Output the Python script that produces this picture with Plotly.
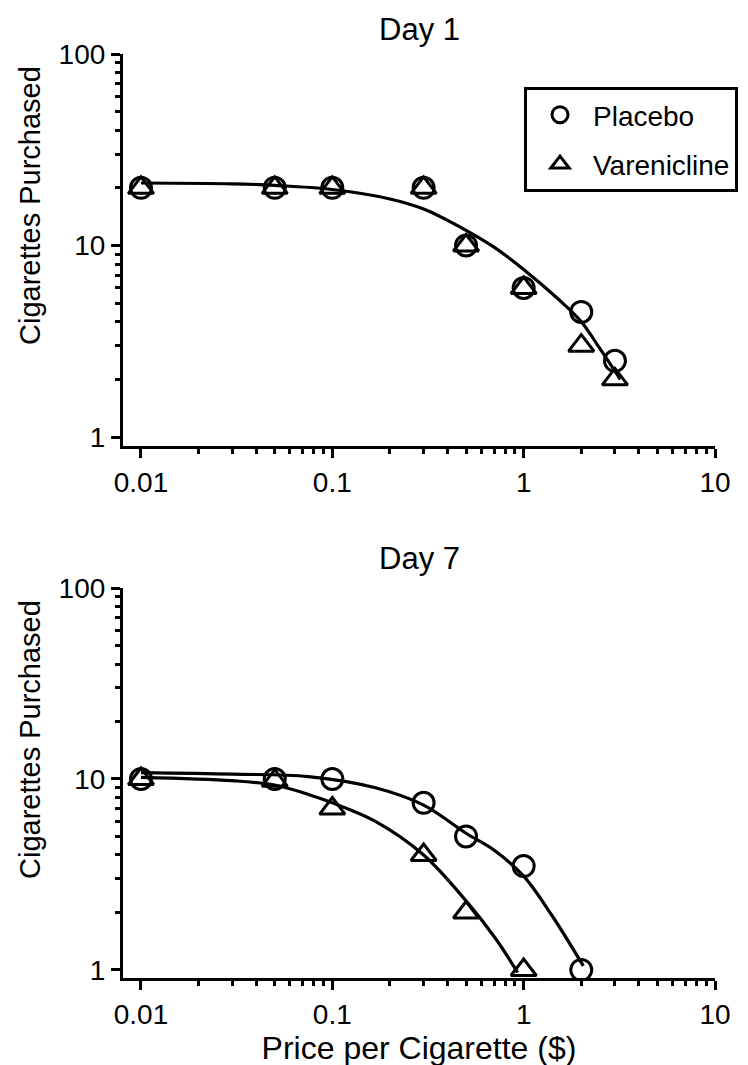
import plotly.graph_objects as go

# ---- data ----
price_day1 = [0.01, 0.05, 0.1, 0.3, 0.5, 1, 2, 3]
day1_placebo = [20, 20, 20, 20, 10, 6, 4.5, 2.5]
day1_varenicline = [20, 20, 20, 20, 10, 6, 3, 2]

price_day7_placebo = [0.01, 0.05, 0.1, 0.3, 0.5, 1, 2]
day7_placebo = [10, 10, 10, 7.5, 5, 3.5, 1]
price_day7_varenicline = [0.01, 0.05, 0.1, 0.3, 0.5, 1]
day7_varenicline = [10, 9.8, 7, 4, 2, 1]

# fitted demand curves
fit1_x = [0.01, 0.03, 0.05, 0.1, 0.2, 0.3, 0.5, 0.7, 1.0, 1.5, 2.0, 2.5, 3.2]
fit1_y = [21.2, 21.0, 20.6, 19.6, 17.5, 15.5, 12.0, 9.8, 7.5, 5.3, 4.0, 2.9, 2.0]

fit7p_x = [0.01, 0.03, 0.075, 0.168, 0.3, 0.5, 0.71, 1.0, 1.4, 2.05]
fit7p_y = [10.8, 10.6, 10.3, 9.0, 7.3, 5.2, 4.2, 3.1, 1.94, 1.05]

fit7v_x = [0.01, 0.03, 0.05, 0.075, 0.1, 0.168, 0.3, 0.5, 0.71, 0.93]
fit7v_y = [10.2, 9.8, 9.3, 8.3, 7.5, 6.0, 4.0, 2.3, 1.47, 0.97]

x_tickvals = [0.01, 0.1, 1, 10]
x_ticktext = ["0.01", "0.1", "1", "10"]
y_tickvals = [1, 10, 100]
y_ticktext = ["1", "10", "100"]
x_minor = [m * d for d in (0.01, 0.1, 1) for m in range(2, 10)]
y_minor = [m * d for d in (1, 10) for m in range(2, 10)]

FONT = "Liberation Sans, Arial, sans-serif"
W, H = 748, 1065
L, R, T, B = 115, 41, 46, 95
plot_h = H - T - B
plot_w = W - L - R

def py(pix):
    return (H - B - pix) / plot_h

def px(pix):
    return (pix - L) / plot_w

fig = go.Figure()

mk_circle = dict(symbol="circle-open", size=21, color="black", line=dict(width=3, color="black"))
mk_tri = dict(symbol="triangle-up-open", size=22, color="black", line=dict(width=3, color="black"))
line_style = dict(color="black", width=3.2, shape="spline")

# Day 1
fig.add_trace(go.Scatter(x=fit1_x, y=fit1_y, mode="lines", line=line_style,
                         showlegend=False, xaxis="x", yaxis="y"))
fig.add_trace(go.Scatter(x=price_day1, y=day1_placebo, mode="markers", marker=mk_circle,
                         name="Placebo", legendgroup="p", xaxis="x", yaxis="y"))
fig.add_trace(go.Scatter(x=price_day1, y=day1_varenicline, mode="markers", marker=mk_tri,
                         name="Varenicline", legendgroup="v", xaxis="x", yaxis="y"))

# Day 7
fig.add_trace(go.Scatter(x=fit7p_x, y=fit7p_y, mode="lines", line=line_style,
                         showlegend=False, xaxis="x2", yaxis="y2"))
fig.add_trace(go.Scatter(x=fit7v_x, y=fit7v_y, mode="lines", line=line_style,
                         showlegend=False, xaxis="x2", yaxis="y2"))
fig.add_trace(go.Scatter(x=price_day7_placebo, y=day7_placebo, mode="markers", marker=mk_circle,
                         name="Placebo", showlegend=False, xaxis="x2", yaxis="y2"))
fig.add_trace(go.Scatter(x=price_day7_varenicline, y=day7_varenicline, mode="markers", marker=mk_tri,
                         name="Varenicline", showlegend=False, xaxis="x2", yaxis="y2"))

def axis(tv, tt, minor, rng, **kw):
    d = dict(type="log", range=rng, showline=True, linecolor="black", linewidth=3.2,
             ticks="outside", ticklen=9, tickwidth=3, tickcolor="black",
             showgrid=False, zeroline=False, tickvals=tv, ticktext=tt,
             tickfont=dict(family=FONT, size=28, color="black"),
             minor=dict(ticks="outside", ticklen=5, tickwidth=3, tickcolor="black",
                        tickvals=minor, showgrid=False))
    d.update(kw)
    return d

xr = [-2.094, 1.0]
top_dom = [py(438), 1.0]
bot_dom = [0.0, py(580)]

fig.update_layout(
    width=W, height=H,
    margin=dict(l=L, r=R, t=T, b=B),
    paper_bgcolor="white", plot_bgcolor="white",
    font=dict(family=FONT, color="black"),
    xaxis=axis(x_tickvals, x_ticktext, x_minor, xr, domain=[0, 1], anchor="y"),
    yaxis=axis(y_tickvals, y_ticktext, y_minor, [-0.047, 2.0], domain=top_dom, anchor="x"),
    xaxis2=axis(x_tickvals, x_ticktext, x_minor, xr, domain=[0, 1], anchor="y2",
                title=dict(text="Price per Cigarette ($)", font=dict(family=FONT, size=32, color="black"),
                           standoff=8)),
    yaxis2=axis(y_tickvals, y_ticktext, y_minor, [-0.042, 2.0], domain=bot_dom, anchor="x2"),
    legend=dict(x=px(516), y=py(79), xanchor="left", yanchor="top",
                bordercolor="black", borderwidth=3, bgcolor="white",
                font=dict(family=FONT, size=28, color="black"),
                tracegroupgap=10, itemwidth=56),
    annotations=[
        dict(text="Day 1", x=0.5, y=py(21), xref="paper", yref="paper", showarrow=False,
             xanchor="center", yanchor="middle", font=dict(family=FONT, size=31, color="black")),
        dict(text="Day 7", x=0.5, y=py(550), xref="paper", yref="paper", showarrow=False,
             xanchor="center", yanchor="middle", font=dict(family=FONT, size=31, color="black")),
        dict(text="Cigarettes Purchased", x=px(22), y=py(198), xref="paper", yref="paper",
             showarrow=False, textangle=-90, xanchor="center", yanchor="middle",
             font=dict(family=FONT, size=29, color="black")),
        dict(text="Cigarettes Purchased", x=px(22), y=py(732), xref="paper", yref="paper",
             showarrow=False, textangle=-90, xanchor="center", yanchor="middle",
             font=dict(family=FONT, size=29, color="black")),
    ],
)

fig.write_html("out.html")
